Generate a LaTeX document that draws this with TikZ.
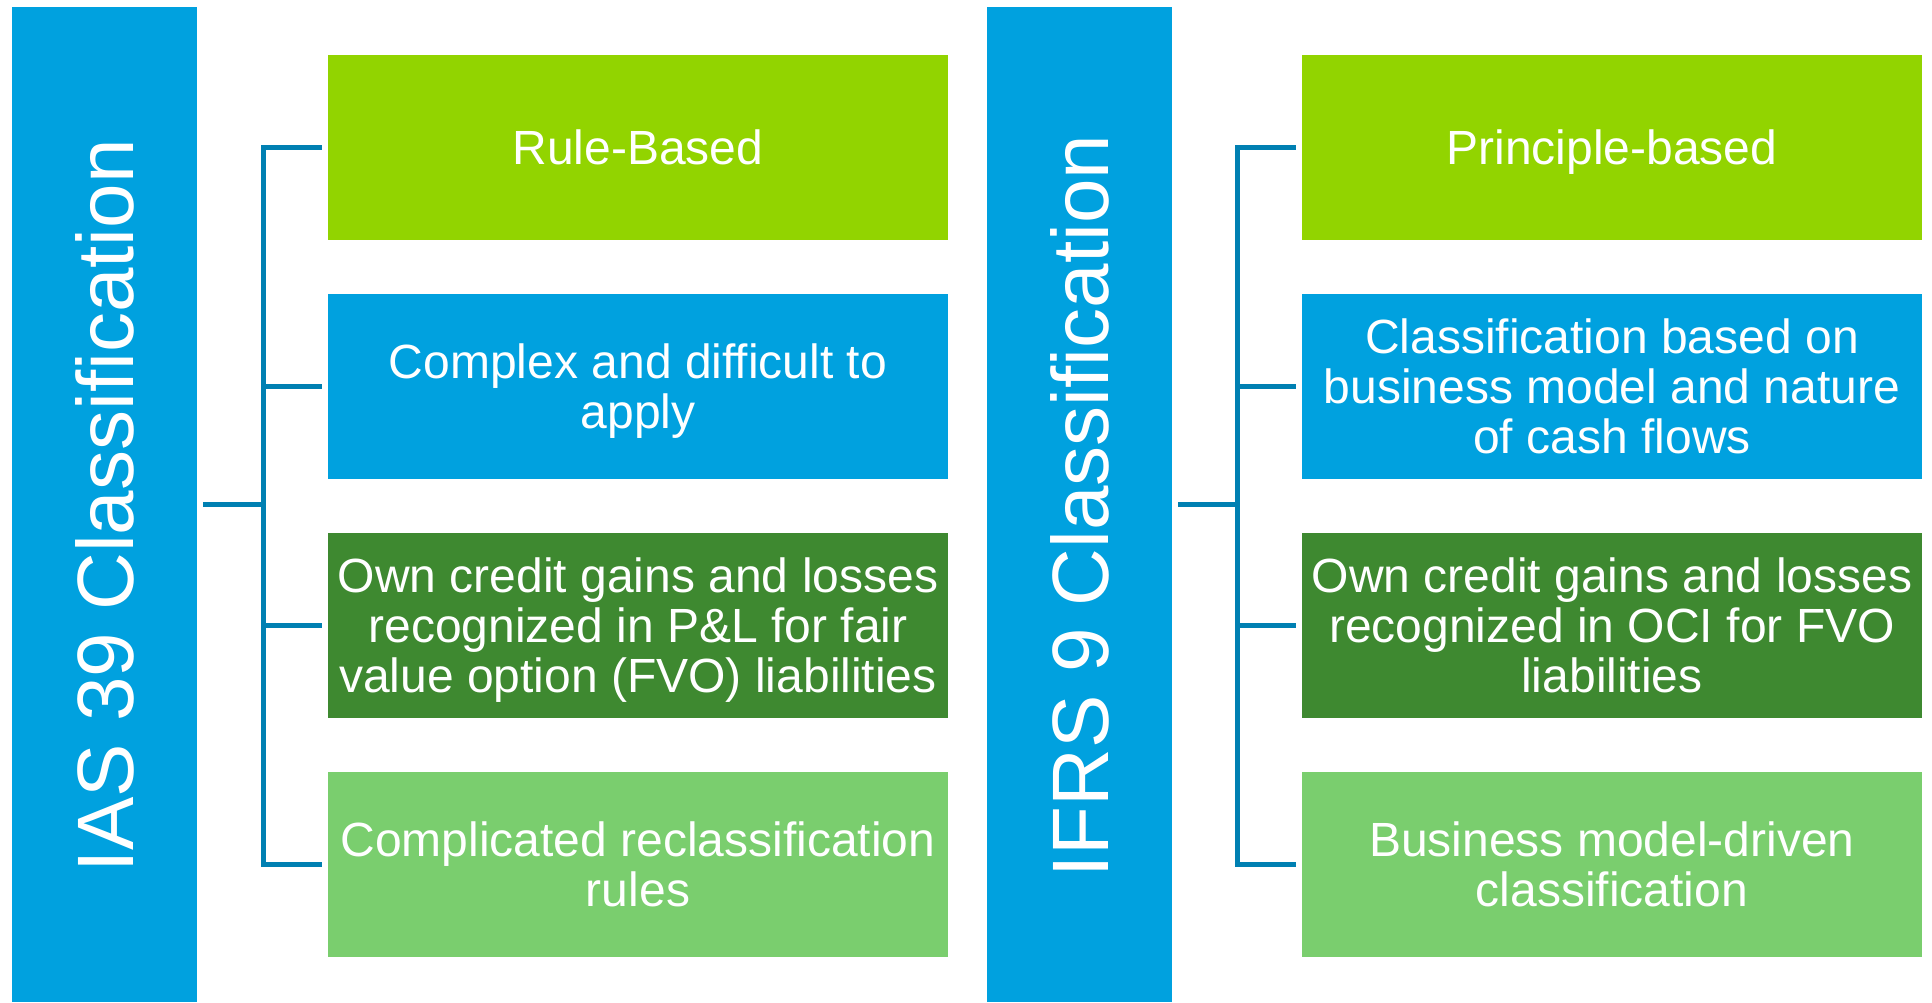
\documentclass[tikz,border=0pt]{standalone}
\usepackage{fontspec}
\setmainfont{Liberation Sans}
\usepackage{tikz}
\usetikzlibrary{positioning}

\tikzset{
  bar/.style={fill={rgb,255:red,0;green,161;blue,223}, draw=none, text=white,
    minimum width=92.5pt, minimum height=497.5pt, inner sep=0pt},
  box/.style={draw=none, text=white, minimum width=310pt, minimum height=92.5pt,
    inner sep=0pt, align=center, text depth=0pt, font=\fontsize{24}{25}\selectfont},
  lime/.style={box, fill={rgb,255:red,146;green,212;blue,0}},
  sky/.style={box, fill={rgb,255:red,0;green,161;blue,223}},
  forest/.style={box, fill={rgb,255:red,62;green,137;blue,48}},
  mint/.style={box, fill={rgb,255:red,122;green,206;blue,110}},
  link/.style={draw={rgb,255:red,0;green,128;blue,178}, line width=2.5pt}
}

\begin{document}
\begin{tikzpicture}[x=0.5pt,y=0.5pt,yscale=-1]
\useasboundingbox (0,0) rectangle (1932,1002);

% Left bar
\node[bar] (ias) at (104.5,504.5) {};
\node[rotate=90, text=white, font=\fontsize{40}{48}\selectfont] (iastext) at (104.5,506) {IAS 39 Classification};
% Right bar
\node[bar] (ifrs) at (1079.5,504.5) {};
\node[rotate=90, text=white, font=\fontsize{40}{48}\selectfont] (ifrstext) at (1079.5,506) {IFRS 9 Classification};

% Left boxes
\node[lime] (l1) at (638,147.5) {Rule-Based};
\node[sky] (l2) at (638,386.5) {Complex and difficult to\\apply};
\node[forest] (l3) at (638,625.5) {Own credit gains and losses\\recognized in P\&L for fair\\value option (FVO) liabilities};
\node[mint] (l4) at (638,864) {Complicated reclassification\\rules};

% Right boxes
\node[lime] (r1) at (1612,147.5) {Principle-based};
\node[sky] (r2) at (1612,386.5) {Classification based on\\business model and nature\\of cash flows};
\node[forest] (r3) at (1612,625.5) {Own credit gains and losses\\recognized in OCI for FVO\\liabilities};
\node[mint] (r4) at (1612,864) {Business model-driven\\classification};

% Connectors
\coordinate (lsp) at (263,0);
\coordinate (rsp) at (1237,0);
\draw[link] ([xshift=-3pt]l1.west) -- (l1.west -| lsp) -- (l4.west -| lsp) -- ([xshift=-3pt]l4.west);
\foreach \i in {2,3} \draw[link] ([xshift=-3pt]l\i.west) -- (l\i.west -| lsp);
\draw[link] ([xshift=3pt]ias.east) -- (ias.east -| lsp);

\draw[link] ([xshift=-3pt]r1.west) -- (r1.west -| rsp) -- (r4.west -| rsp) -- ([xshift=-3pt]r4.west);
\foreach \i in {2,3} \draw[link] ([xshift=-3pt]r\i.west) -- (r\i.west -| rsp);
\draw[link] ([xshift=3pt]ifrs.east) -- (ifrs.east -| rsp);

\end{tikzpicture}
\end{document}
